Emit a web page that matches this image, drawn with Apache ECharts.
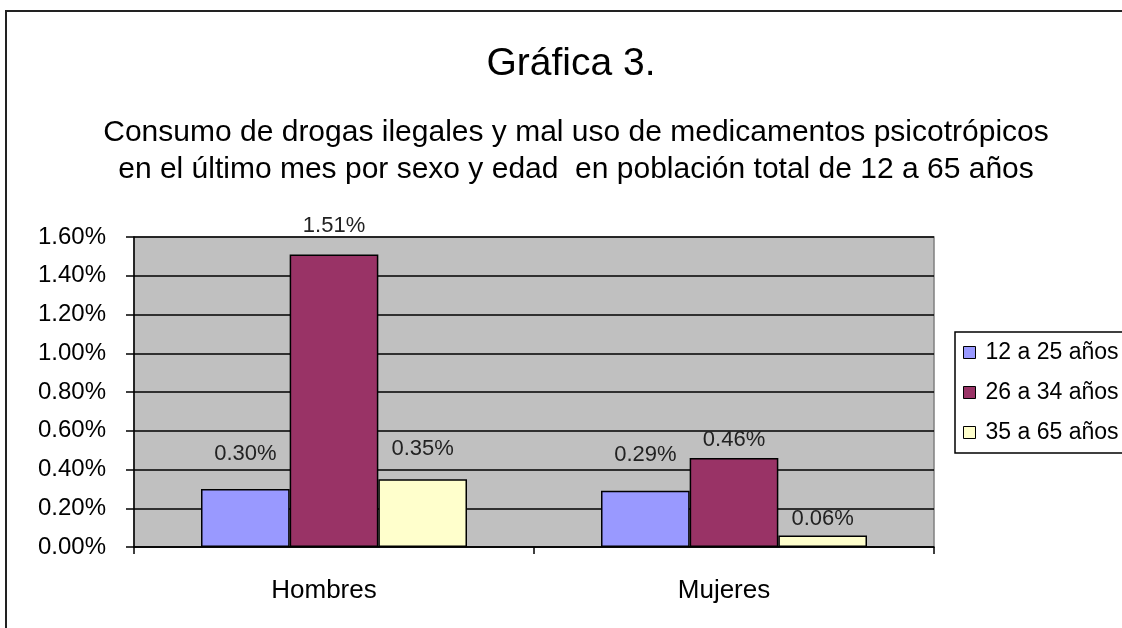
<!DOCTYPE html>
<html><head><meta charset="utf-8">
<script src="https://cdn.jsdelivr.net/npm/echarts@6/dist/echarts.min.js"></script>
<style>html,body{margin:0;padding:0;background:#fff;}#c{width:1122px;height:628px;}</style>
</head><body><div id="c"></div>
<script>
const categories = ['Hombres', 'Mujeres'];
const seriesNames = ['12 a 25 años', '26 a 34 años', '35 a 65 años'];
const age12to25 = [0.30, 0.29];
const age26to34 = [1.51, 0.46];
const age35to65 = [0.35, 0.06];
const yTicks = [0, 0.2, 0.4, 0.6, 0.8, 1.0, 1.2, 1.4, 1.6];

const colors = ['#9999FF', '#993366', '#FFFFCC'];
const labelDist = [[24, 25], [18, 7], [19, 5]];
const values = [age12to25, age26to34, age35to65];
const FONT = '"Liberation Sans", Arial, sans-serif';

const chart = echarts.init(document.getElementById('c'), null, {renderer: 'canvas'});
chart.setOption({
  animation: false,
  textStyle: {fontFamily: FONT},
  title: [
    {text: 'Gráfica 3.', left: 566, top: 40, textAlign: 'center',
     textStyle: {fontFamily: FONT, fontSize: 39, fontWeight: 'normal', color: '#000'}},
    {text: 'Consumo de drogas ilegales y mal uso de medicamentos psicotrópicos\nen el último mes por sexo y edad  en población total de 12 a 65 años',
     left: 571, top: 109, textAlign: 'center',
     textStyle: {fontFamily: FONT, fontSize: 30, fontWeight: 'normal', color: '#000', lineHeight: 37}}
  ],
  graphic: [
    {type: 'rect', shape: {x: 6, y: 11, width: 1300, height: 800},
     style: {fill: 'none', stroke: '#222', lineWidth: 2}, silent: true}
  ],
  legend: {
    orient: 'vertical', left: 955, top: 332,
    itemWidth: 12, itemHeight: 12, itemGap: 17,
    padding: [9, 30, 9, 8],
    borderColor: '#000', borderWidth: 1.5, backgroundColor: '#fff',
    textStyle: {fontFamily: FONT, fontSize: 23, color: '#000', padding: [0, 0, 0, 5]},
    data: seriesNames.map(n => ({name: n, icon: 'rect'})),
    itemStyle: {borderColor: '#000', borderWidth: 1}
  },
  grid: {left: 134, right: 188, top: 237, bottom: 81, show: true,
         backgroundColor: '#C0C0C0', borderColor: '#808080', borderWidth: 1.5},
  xAxis: {
    type: 'category', data: categories,
    axisLine: {lineStyle: {color: '#000', width: 1.5}},
    axisTick: {show: true, length: 7, lineStyle: {color: '#000', width: 1.5}},
    axisLabel: {fontFamily: FONT, fontSize: 26, color: '#000', margin: 31, padding: [0, 20, 0, 0]}
  },
  yAxis: {
    type: 'value', min: 0, max: yTicks[yTicks.length - 1], interval: 0.2,
    axisLine: {show: true, lineStyle: {color: '#000', width: 1.5}},
    axisTick: {show: true, length: 8, lineStyle: {color: '#000', width: 1.5}},
    axisLabel: {fontFamily: FONT, fontSize: 24, color: '#000', margin: 28,
                formatter: v => v.toFixed(2) + '%'},
    splitLine: {lineStyle: {color: '#000', width: 1.5}}
  },
  series: seriesNames.map((name, i) => ({
    name: name, type: 'bar',
    barGap: '0%', barCategoryGap: '33.5%',
    itemStyle: {color: colors[i], borderColor: '#000', borderWidth: 1.5},
    data: values[i].map((v, j) => ({value: v, label: {distance: labelDist[i][j]}})),
    label: {show: true, position: 'top', fontFamily: FONT, fontSize: 22, color: '#222',
            formatter: p => p.value.toFixed(2) + '%'}
  }))
});
</script></body></html>
